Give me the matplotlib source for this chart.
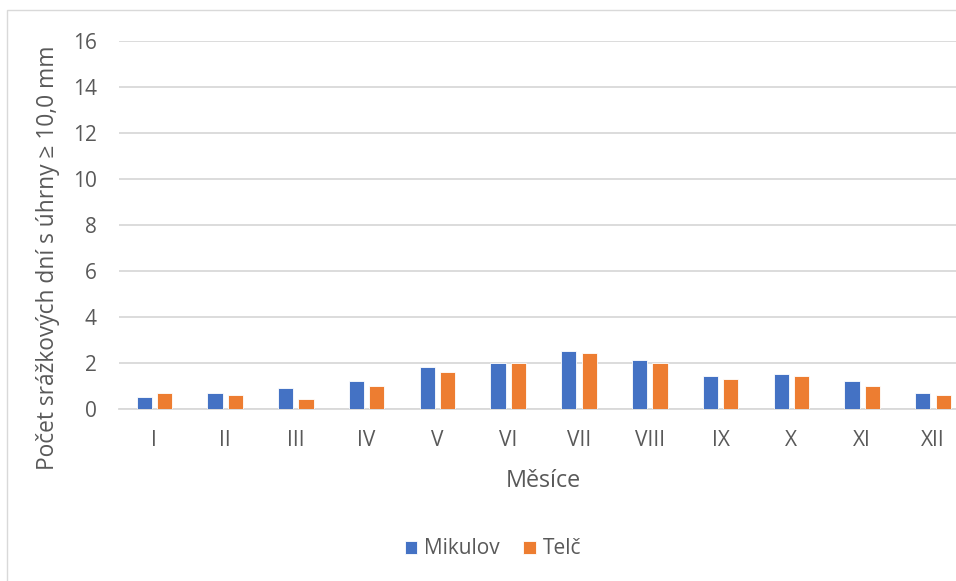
import numpy as np
import matplotlib.pyplot as plt
from matplotlib.patches import Rectangle

# Months and mean number of days with precipitation >= 10 mm
mesice = ['I', 'II', 'III', 'IV', 'V', 'VI', 'VII', 'VIII', 'IX', 'X', 'XI', 'XII']
mikulov = [0.5, 0.7, 0.9, 1.2, 1.8, 2.0, 2.5, 2.1, 1.4, 1.5, 1.2, 0.7]
telc = [0.7, 0.6, 0.4, 1.0, 1.6, 2.0, 2.4, 2.0, 1.3, 1.4, 1.0, 0.6]
y_ticks = [0, 2, 4, 6, 8, 10, 12, 14, 16]

plt.rcParams['font.family'] = ['Open Sans', 'DejaVu Sans']
text_color = '#595959'
grid_color = '#D9D9D9'

fig = plt.figure(figsize=(9.56, 5.81), dpi=100)
ax = fig.add_axes([0.1244, 0.2966, 0.8885, 0.6334])

# chart area frame
fig.patches.append(Rectangle((7 / 956, 0 - 0.05), 1.2, (571 / 581) + 0.05,
                             transform=fig.transFigure, fill=False,
                             edgecolor=grid_color, linewidth=1.0))

x = np.arange(len(mesice))
width = 0.215
offset = 0.144
ax.bar(x - offset, mikulov, width, color='#4472C4', edgecolor='white',
       linewidth=0.6, label='Mikulov', zorder=3)
ax.bar(x + offset, telc, width, color='#ED7D31', edgecolor='white',
       linewidth=0.6, label='Telč', zorder=3)

ax.set_xlim(-0.5, len(mesice) - 0.5)
ax.set_ylim(0, 16)
ax.set_yticks(y_ticks)
ax.set_xticks(x)
ax.set_xticklabels(mesice)
ax.yaxis.grid(True, color=grid_color, linewidth=1.3, zorder=0)
ax.tick_params(axis='both', length=0, labelsize=15, labelcolor=text_color)
ax.tick_params(axis='x', pad=15)
ax.tick_params(axis='y', pad=16)
for s in ['top', 'right', 'left']:
    ax.spines[s].set_visible(False)
ax.spines['bottom'].set_color(grid_color)
ax.spines['bottom'].set_linewidth(1.3)

ax.set_xlabel('Měsíce', fontsize=16.8, color=text_color, labelpad=13)
# y title sits a bit below the middle of the plot area
fig.text(48 / 956, 1 - 258 / 581, 'Počet srážkových dní s úhrny ≥ 10,0 mm',
         rotation=90, ha='center', va='center', fontsize=16.4,
         color=text_color)

fig.legend(loc='center', bbox_to_anchor=(493 / 956, 1 - 549 / 581), ncol=2,
           frameon=False, fontsize=15, labelcolor=text_color,
           handlelength=0.6, handleheight=0.6, handletextpad=0.35,
           columnspacing=1.1)

fig.savefig('out.png', dpi=100)
